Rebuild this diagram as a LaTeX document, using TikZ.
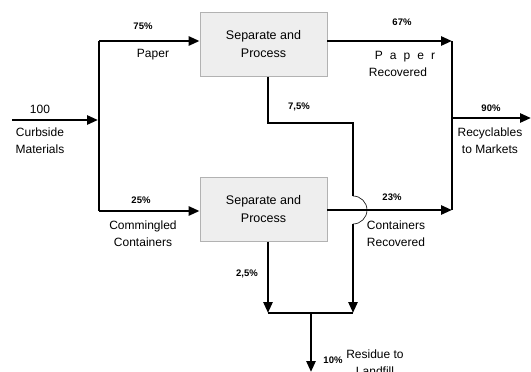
\documentclass[tikz,border=0pt]{standalone}
\usepackage{fontspec}
\setmainfont{Liberation Sans}
\usetikzlibrary{arrows.meta}
\begin{document}
\begin{tikzpicture}[x=1pt,y=-1pt,
  flow/.style={line width=2.6pt},
  arr/.style={flow,-{Triangle[length=11pt,width=9pt]}},
  proc/.style={draw=gray!60,line width=0.8pt,fill=gray!13,minimum width=127pt,minimum height=64pt,
    inner sep=0pt,align=center,font=\fontsize{12.5}{18}\selectfont},
  lbl/.style={font=\fontsize{12}{17}\selectfont,align=center,inner sep=0pt},
  pct/.style={font=\bfseries\fontsize{9.5}{10}\selectfont,inner sep=0pt}]
\useasboundingbox (0,0) rectangle (531,372);
% process boxes
\node[proc] (p1) at (263.5,44.5) {Separate and\\Process};
\node[proc] (p2) at (263.5,209.5) {Separate and\\Process};
% junction coordinates
\coordinate (src) at (12,120);
\coordinate (jt) at (99,41);
\coordinate (jb) at (99,211);
\coordinate (rt) at (452,41);
\coordinate (rb) at (452,210);
\coordinate (rm) at (452,118);
\coordinate (out) at (531,118);
\coordinate (a1) at (268,123);
\coordinate (a2) at (353,123);
\coordinate (h1) at (353,196);
\coordinate (h2) at (353,224);
\coordinate (ma) at (353,313);
\coordinate (mb) at (268,313);
\coordinate (mc) at (311,313);
\coordinate (land) at (311,372);
% input
\draw[arr] (src) -- (98,120);
\draw[flow] (jt) -- (jb);
\draw[arr] (jt) -- (jt -| p1.west);
\draw[arr] (jb) -- (jb -| p2.west);
% outputs to markets
\draw[arr] (p1.east |- rt) -- (rt);
\draw[arr] (p2.east |- rb) -- (rb);
\draw[flow] (rt) -- (rb);
\draw[arr] (rm) -- (out);
% residues
\draw[flow] (p1.south -| a1) -- (a1) -- (a2) -- (h1);
\draw[line width=0.6pt] (h1) arc[start angle=-90,end angle=90,radius=14];
\draw[arr] (h2) -- (ma);
\draw[arr] (p2.south -| mb) -- (mb);
\draw[flow] (mb) -- (ma);
\draw[arr] (mc) -- (land);
% labels
\node[pct] (l75) at (143,26) {75\%};
\node[lbl] (lpaper) at (153,55) {Paper};
\node[lbl] (l100) at (40,109) {100};
\node[lbl] (lcurb) at (40,141) {Curbside\\Materials};
\node[pct] (l67) at (402,22) {67\%};
\node[lbl] (lpr) at (398,63.5) {\hspace*{14pt}P\hspace{7pt}a\hspace{7pt}p\hspace{7pt}e\hspace{7pt}r\\Recovered};
\node[pct] (l75b) at (299,107) {7,5\%};
\node[pct] (l90) at (491,108) {90\%};
\node[lbl] (lrec) at (490,141) {Recyclables\\to Markets};
\node[pct] (l25) at (141,200) {25\%};
\node[lbl] (lcomm) at (143,234) {Commingled\\Containers};
\node[pct] (l23) at (392,197) {23\%};
\node[lbl] (lcont) at (396,234) {Containers\\Recovered};
\node[pct] (l25b) at (247,274) {2,5\%};
\node[pct] (l10) at (333,360) {10\%};
\node[lbl] (lres) at (375,363) {Residue to\\Landfill};
\end{tikzpicture}
\end{document}
